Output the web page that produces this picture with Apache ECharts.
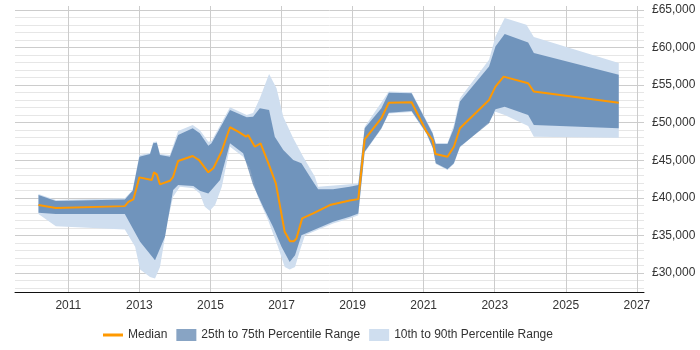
<!DOCTYPE html>
<html>
<head>
<meta charset="utf-8">
<script src="https://cdn.jsdelivr.net/npm/echarts@6/dist/echarts.min.js"></script>
<style>
  html, body { margin: 0; padding: 0; background: #fff; }
  #main { width: 700px; height: 350px; }
</style>
</head>
<body>
<div id="main"></div>
<script>
// values: [year, salary]
var median = [
  [2010.16, 39050], [2010.65, 38650], [2012.59, 38910], [2012.69, 39485], [2012.83, 39800],
  [2013.00, 42730], [2013.35, 42370], [2013.41, 43400], [2013.49, 43130], [2013.58, 41800],
  [2013.86, 42280], [2013.95, 42810], [2014.09, 44900], [2014.50, 45570], [2014.68, 45030],
  [2014.94, 43400], [2015.08, 43930], [2015.31, 46140], [2015.55, 49390], [2015.78, 48800],
  [2016.00, 48140], [2016.06, 48360], [2016.25, 46800], [2016.41, 47260], [2016.62, 44730],
  [2016.84, 41930], [2017.09, 35490], [2017.24, 34250], [2017.35, 34250], [2017.42, 34610],
  [2017.58, 37280], [2017.89, 37940], [2018.36, 39050], [2018.92, 39670], [2019.16, 39840],
  [2019.34, 47790], [2019.81, 50590], [2020.02, 52660], [2020.66, 52720], [2021.08, 48800],
  [2021.25, 47700], [2021.33, 45830], [2021.67, 45470], [2021.85, 46800], [2022.02, 49250],
  [2022.84, 53020], [2023.02, 54790], [2023.25, 56120], [2023.94, 55240], [2024.10, 54130],
  [2026.49, 52660]
];
var p75 = [
  [2010.16, 40380], [2010.65, 39580], [2012.59, 39800], [2012.81, 40950], [2013.00, 45470],
  [2013.30, 45830], [2013.39, 47260], [2013.49, 47340], [2013.58, 45700], [2013.86, 45470],
  [2014.09, 48360], [2014.50, 49250], [2014.70, 48590], [2014.94, 46940], [2015.03, 47260],
  [2015.55, 51690], [2016.02, 50720], [2016.20, 50800], [2016.39, 51920], [2016.65, 51690],
  [2016.81, 48140], [2017.05, 46370], [2017.33, 45030], [2017.56, 44600], [2017.89, 42150],
  [2018.03, 41140], [2018.45, 41140], [2018.92, 41480], [2019.16, 41710], [2019.34, 49250],
  [2019.81, 51920], [2020.02, 53990], [2020.66, 53910], [2021.25, 48590], [2021.34, 47160],
  [2021.67, 47160], [2021.85, 49250], [2022.02, 52800], [2022.84, 57450], [2023.02, 60120],
  [2023.28, 61770], [2023.94, 60650], [2024.10, 59240], [2026.49, 56350]
];
var p25 = [
  [2010.16, 38020], [2010.65, 37850], [2012.59, 37850], [2013.02, 34160], [2013.44, 31730],
  [2013.72, 34830], [2013.95, 41040], [2014.09, 41710], [2014.52, 41570], [2014.70, 40950],
  [2014.94, 40600], [2015.27, 42370], [2015.55, 47260], [2015.92, 45930], [2016.20, 41710],
  [2016.48, 38820], [2016.76, 36160], [2017.00, 33500], [2017.23, 31500], [2017.38, 32390],
  [2017.56, 35050], [2017.89, 35720], [2018.45, 36820], [2018.92, 37490], [2019.16, 37940],
  [2019.34, 46140], [2019.81, 49250], [2020.02, 51330], [2020.66, 51560], [2021.08, 48590],
  [2021.26, 46590], [2021.34, 44600], [2021.67, 43800], [2021.85, 44600], [2022.02, 46800],
  [2022.84, 49920], [2023.02, 51780], [2023.28, 52130], [2023.94, 51020], [2024.10, 49690],
  [2026.49, 49250]
];
var p90 = [
  [2010.16, 40510], [2010.65, 39710], [2012.59, 39940], [2012.81, 41040], [2013.00, 45700],
  [2013.30, 45970], [2013.39, 47430], [2013.49, 47500], [2013.58, 45830], [2013.86, 45700],
  [2014.09, 48900], [2014.50, 49690], [2014.70, 49030], [2014.94, 47470], [2015.03, 47560],
  [2015.55, 52050], [2016.02, 51020], [2016.20, 51290], [2016.39, 53250], [2016.65, 56480],
  [2016.86, 54580], [2017.05, 50800], [2017.33, 47920], [2017.61, 45470], [2017.94, 42810],
  [2018.03, 41480], [2018.92, 41800], [2019.16, 41930], [2019.34, 49470], [2020.02, 54130],
  [2020.66, 54050], [2021.25, 48760], [2021.34, 47300], [2021.67, 47300], [2021.85, 49690],
  [2022.02, 53250], [2022.84, 58350], [2023.02, 61450], [2023.28, 63900], [2023.89, 63000],
  [2024.10, 61370], [2026.49, 57910]
];
var p10 = [
  [2010.16, 37850], [2010.65, 36250], [2012.59, 35810], [2012.88, 33500], [2013.02, 30490],
  [2013.30, 29500], [2013.44, 29290], [2013.58, 30830], [2013.80, 37050], [2013.95, 40150],
  [2014.14, 41480], [2014.52, 41270], [2014.70, 40600], [2014.84, 38820], [2014.98, 38290],
  [2015.13, 39050], [2015.32, 41480], [2015.55, 46800], [2015.92, 45470], [2016.11, 43930],
  [2016.33, 40150], [2016.62, 37050], [2016.90, 33500], [2017.09, 30830], [2017.23, 30490],
  [2017.38, 30830], [2017.52, 33060], [2017.66, 35050], [2018.45, 36610], [2018.92, 37280],
  [2019.16, 37710], [2019.34, 46030], [2019.81, 49160], [2020.02, 51220], [2020.66, 51420],
  [2021.08, 48500], [2021.26, 46500], [2021.34, 44500], [2021.67, 43700], [2021.85, 44500],
  [2022.02, 46700], [2022.84, 50130], [2023.02, 51460], [2023.28, 51020], [2023.94, 49560],
  [2024.10, 48140], [2026.49, 48000]
];

var oddYears = [2011, 2013, 2015, 2017, 2019, 2021, 2023, 2025, 2027];

var darkBand = 'rgba(17,73,137,0.5)';
var lightBand = '#cfdeef';
var none = 'rgba(0,0,0,0)';

function band(upper, lower, color) {
  return function (params, api) {
    var pts = [];
    upper.forEach(function (p) { pts.push(api.coord(p)); });
    lower.slice().reverse().forEach(function (p) { pts.push(api.coord(p)); });
    return { type: 'polygon', shape: { points: pts }, style: { fill: color } };
  };
}

var chart = echarts.init(document.getElementById('main'));
var option = {
  animation: false,
  textStyle: { fontFamily: 'Arial, "Liberation Sans", sans-serif', fontSize: 12, color: '#333' },
  grid: { left: 15, right: 56, top: 6, bottom: 58 },
  legend: {
    left: 98, top: 324,
    itemWidth: 20, itemHeight: 12, itemGap: 9,
    textStyle: { fontSize: 12, color: '#333' },
    data: [
      { name: 'Median', icon: 'path://M0,0H20V3H0Z' },
      { name: '25th to 75th Percentile Range', icon: 'rect' },
      { name: '10th to 90th Percentile Range', icon: 'rect' }
    ]
  },
  xAxis: {
    type: 'value', min: 2009.5, max: 2027.2, interval: 0.5,
    axisLine: { lineStyle: { color: '#111', width: 1 } },
    axisTick: { show: false },
    axisLabel: {
      margin: 8, color: '#333', fontSize: 12,
      formatter: function (v) { return oddYears.indexOf(Math.round(v * 10) / 10) >= 0 ? String(v) : ''; }
    },
    splitLine: { show: true, lineStyle: { color: [none, none, none, '#cccccc'] } }
  },
  yAxis: {
    type: 'value', position: 'right', min: 27500, max: 65500, interval: 500,
    axisLine: { show: false }, axisTick: { show: false },
    axisLabel: {
      margin: 8, color: '#333', fontSize: 12,
      formatter: function (v) {
        return v % 5000 === 0 ? '£' + v.toLocaleString('en-GB') : '';
      }
    },
    splitLine: {
      show: true,
      lineStyle: { color: [none, '#e6e6e6', none, '#e6e6e6', none, '#cccccc', none, '#e6e6e6', none, '#e6e6e6'] }
    }
  },
  series: [
    {
      name: '10th to 90th Percentile Range', type: 'custom',
      itemStyle: { color: lightBand },
      data: [p90[0]], renderItem: band(p90, p10, lightBand), z: 1
    },
    {
      name: '25th to 75th Percentile Range', type: 'custom',
      itemStyle: { color: darkBand },
      data: [p75[0]], renderItem: band(p75, p25, darkBand), z: 2
    },
    {
      name: 'Median', type: 'line', data: median, symbol: 'none', z: 3,
      itemStyle: { color: '#ff9900' },
      lineStyle: { color: '#ff9900', width: 2 }
    }
  ]
};
chart.setOption(option);
</script>
</body>
</html>
